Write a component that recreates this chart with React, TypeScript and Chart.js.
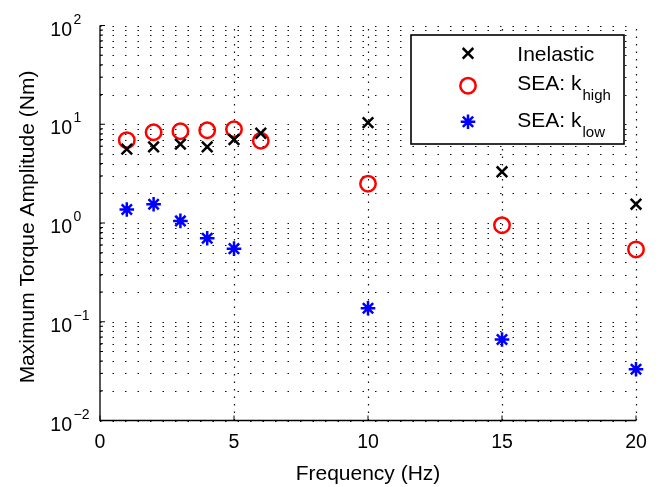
import React, { useEffect, useRef } from 'react';
import { Chart, registerables } from 'chart.js';

Chart.register(...registerables);

// ---- data ----
const frequencies = [1, 2, 3, 4, 5, 6, 10, 15, 20];
const inelastic = [5.6, 5.9, 6.3, 5.9, 7.0, 8.1, 10.4, 3.3, 1.55];
const seaHigh = [6.9, 8.3, 8.5, 8.7, 8.9, 6.8, 2.5, 0.95, 0.54];
const seaLow = [1.37, 1.55, 1.05, 0.7, 0.55, null, 0.137, 0.066, 0.033];

const seriesNames = ['Inelastic', 'SEA: k', 'SEA: k'];
const seriesSubscripts = ['', 'high', 'low'];

const xTicks = [0, 5, 10, 15, 20];
const xGridValues = [5, 10, 15, 20];
const yTickValues = [0.01, 0.1, 1, 10, 100];
const yTickExponents = ['\u22122', '\u22121', '0', '1', '2'];
const yMinorMultipliers = [2, 3, 4, 5, 6, 7, 8, 9];

const xTitle = 'Frequency (Hz)';
const yTitle = 'Maximum Torque Amplitude (Nm)';

const FAMILY = '"Liberation Sans", Arial, Helvetica, sans-serif';

function toPoints(vals: (number | null)[]) {
  const out: { x: number; y: number }[] = [];
  vals.forEach((v, i) => {
    if (v !== null) out.push({ x: frequencies[i], y: v });
  });
  return out;
}

function drawMarker(ctx: CanvasRenderingContext2D, style: string, x: number, y: number, r: number, color: string, lw: number) {
  ctx.save();
  ctx.strokeStyle = color;
  ctx.lineWidth = lw;
  ctx.beginPath();
  if (style === 'circle') {
    ctx.arc(x, y, r, 0, Math.PI * 2);
  } else {
    const d = r * Math.SQRT1_2;
    ctx.moveTo(x - d, y - d);
    ctx.lineTo(x + d, y + d);
    ctx.moveTo(x - d, y + d);
    ctx.lineTo(x + d, y - d);
    if (style === 'star') {
      ctx.moveTo(x - r, y);
      ctx.lineTo(x + r, y);
      ctx.moveTo(x, y - r);
      ctx.lineTo(x, y + r);
    }
  }
  ctx.stroke();
  ctx.restore();
}

const markerStyles = ['crossRot', 'circle', 'star'];
const markerColors = ['#000000', '#ff0000', '#0000ff'];
const markerRadii = [7.5, 7.7, 7.3];
const markerLineWidth = 2.5;

const axesPlugin = {
  id: 'matlabAxes',
  beforeDatasetsDraw(chart: any) {
    const ctx: CanvasRenderingContext2D = chart.ctx;
    const xs = chart.scales.x;
    const ys = chart.scales.y;
    const { left, right, top, bottom } = chart.chartArea;
    ctx.save();
    // dotted grid
    ctx.strokeStyle = '#111';
    ctx.lineWidth = 1.2;
    ctx.setLineDash([1.5, 11]);
    const hVals: number[] = [];
    for (let i = 0; i < yTickValues.length; i++) {
      hVals.push(yTickValues[i]);
      if (i < yTickValues.length - 1) yMinorMultipliers.forEach((m) => hVals.push(yTickValues[i] * m));
    }
    hVals.forEach((v) => {
      const py = Math.round(ys.getPixelForValue(v)) + 0.5;
      ctx.beginPath();
      ctx.moveTo(left, py);
      ctx.lineTo(right, py);
      ctx.stroke();
    });
    ctx.setLineDash([1.5, 6]);
    xGridValues.forEach((v) => {
      const px = Math.round(xs.getPixelForValue(v)) + 0.5;
      ctx.beginPath();
      ctx.moveTo(px, bottom);
      ctx.lineTo(px, top);
      ctx.stroke();
    });
    ctx.setLineDash([]);
    // axis lines
    ctx.strokeStyle = '#000';
    ctx.lineWidth = 1.3;
    ctx.beginPath();
    ctx.moveTo(left, top);
    ctx.lineTo(left, bottom);
    ctx.lineTo(right, bottom);
    ctx.stroke();
    // y ticks
    ctx.lineWidth = 1;
    yTickValues.forEach((v, i) => {
      const py = ys.getPixelForValue(v);
      ctx.beginPath();
      ctx.moveTo(left, py);
      ctx.lineTo(left + 5, py);
      ctx.stroke();
      if (i < yTickValues.length - 1) {
        yMinorMultipliers.forEach((m) => {
          const pm = ys.getPixelForValue(v * m);
          ctx.beginPath();
          ctx.moveTo(left, pm);
          ctx.lineTo(left + 3, pm);
          ctx.stroke();
        });
      }
    });
    // x ticks
    xTicks.forEach((v) => {
      const px = xs.getPixelForValue(v);
      ctx.beginPath();
      ctx.moveTo(px, bottom);
      ctx.lineTo(px, bottom - 5);
      ctx.stroke();
    });
    // tick labels
    ctx.fillStyle = '#000';
    ctx.textBaseline = 'alphabetic';
    ctx.font = `19.5px ${FAMILY}`;
    ctx.textAlign = 'center';
    xTicks.forEach((v) => {
      ctx.fillText(String(v), xs.getPixelForValue(v), 447.5);
    });
    yTickValues.forEach((v, i) => {
      const py = ys.getPixelForValue(v);
      ctx.font = `19.5px ${FAMILY}`;
      ctx.textAlign = 'right';
      ctx.fillText('10', 72, py + 10);
      ctx.font = `14px ${FAMILY}`;
      ctx.textAlign = 'left';
      ctx.fillText(yTickExponents[i], 73.5, py - 2);
    });
    // titles
    ctx.font = `21px ${FAMILY}`;
    ctx.textAlign = 'center';
    ctx.fillText(xTitle, (left + right) / 2, 479.5);
    ctx.save();
    ctx.translate(33.5, (top + bottom) / 2 + 4);
    ctx.rotate(-Math.PI / 2);
    ctx.fillText(yTitle, 0, 0);
    ctx.restore();
    ctx.restore();
  },
  afterDatasetsDraw(chart: any) {
    const ctx: CanvasRenderingContext2D = chart.ctx;
    ctx.save();
    const bx = 411, by = 35, bw = 213, bh = 109;
    ctx.fillStyle = '#fff';
    ctx.fillRect(bx, by, bw, bh);
    ctx.strokeStyle = '#000';
    ctx.lineWidth = 1.6;
    ctx.strokeRect(bx, by, bw, bh);
    const markerY = [53.3, 85.7, 121.7];
    const baseY = [61, 90, 126.7];
    seriesNames.forEach((name, i) => {
      drawMarker(ctx, markerStyles[i], 468, markerY[i], markerRadii[i], markerColors[i], markerLineWidth);
      ctx.fillStyle = '#000';
      ctx.textAlign = 'left';
      ctx.textBaseline = 'alphabetic';
      ctx.font = `21px ${FAMILY}`;
      ctx.fillText(name, 517.3, baseY[i]);
      if (seriesSubscripts[i]) {
        const w = ctx.measureText(name).width;
        ctx.font = `15px ${FAMILY}`;
        ctx.fillText(seriesSubscripts[i], 517.3 + w + 1, baseY[i] + 10);
      }
    });
    ctx.restore();
  },
};

export default function App() {
  const ref = useRef<HTMLCanvasElement | null>(null);
  useEffect(() => {
    if (!ref.current) return;
    const chart = new Chart(ref.current, {
      type: 'scatter',
      data: {
        datasets: [
          {
            label: seriesNames[0],
            data: toPoints(inelastic),
            pointStyle: 'crossRot',
            pointRadius: markerRadii[0],
            pointBorderWidth: markerLineWidth,
            pointBorderColor: markerColors[0],
            pointBackgroundColor: markerColors[0],
            showLine: false,
            clip: false,
          },
          {
            label: seriesNames[1] + seriesSubscripts[1],
            data: toPoints(seaHigh),
            pointStyle: 'circle',
            pointRadius: markerRadii[1],
            pointBorderWidth: markerLineWidth,
            pointBorderColor: markerColors[1],
            pointBackgroundColor: 'rgba(0,0,0,0)',
            showLine: false,
            clip: false,
          },
          {
            label: seriesNames[2] + seriesSubscripts[2],
            data: toPoints(seaLow),
            pointStyle: 'star',
            pointRadius: markerRadii[2],
            pointBorderWidth: markerLineWidth,
            pointBorderColor: markerColors[2],
            pointBackgroundColor: markerColors[2],
            showLine: false,
            clip: false,
          },
        ],
      } as any,
      options: {
        animation: false,
        responsive: false,
        devicePixelRatio: 1,
        layout: { padding: { left: 100, top: 25.5, right: 28, bottom: 66.5 } },
        plugins: { legend: { display: false }, tooltip: { enabled: false } },
        scales: {
          x: {
            type: 'linear',
            min: 0,
            max: 20,
            ticks: { display: false },
            grid: { display: false, drawTicks: false },
            border: { display: false },
            afterFit: (s: any) => { s.height = 0; },
          },
          y: {
            type: 'logarithmic',
            min: 0.01,
            max: 100,
            ticks: { display: false },
            grid: { display: false, drawTicks: false },
            border: { display: false },
            afterFit: (s: any) => { s.width = 0; },
          },
        },
      } as any,
      plugins: [axesPlugin],
    });
    return () => chart.destroy();
  }, []);
  return (
    <div style={{ position: 'fixed', left: 0, top: 0, width: 664, height: 487, background: '#fff' }}>
      <canvas ref={ref} width={664} height={487} style={{ display: 'block', width: 664, height: 487 }} />
    </div>
  );
}
